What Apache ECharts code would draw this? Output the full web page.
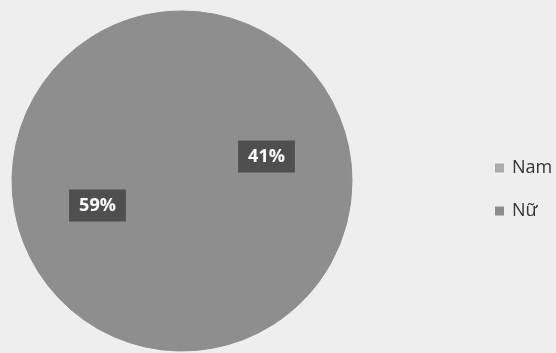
<!DOCTYPE html>
<html>
<head>
<meta charset="utf-8">
<script src="https://cdn.jsdelivr.net/npm/echarts@6/dist/echarts.min.js"></script>
<style>
  html, body { margin: 0; padding: 0; background: #eeeeee; }
  #chart { width: 556px; height: 353px; }
</style>
</head>
<body>
<div id="chart"></div>
<script>
// Gender split
var categories = ['Nam', 'Nữ'];
var shares = [41, 59];
var sliceColors = ['#8e8e8e', '#8e8e8e'];
var legendColors = ['#ababab', '#8c8c8c'];

var chart = echarts.init(document.getElementById('chart'), null, { renderer: 'canvas' });

var pieData = categories.map(function (name, i) {
  return {
    name: name,
    value: shares[i],
    // same-colour border hides the anti-aliased seam between slices
    itemStyle: { color: sliceColors[i], borderColor: sliceColors[i], borderWidth: 1 }
  };
});

chart.setOption({
  backgroundColor: '#eeeeee',
  animation: false,
  legend: {
    orient: 'vertical',
    left: 495,
    top: 159,
    padding: 0,
    itemWidth: 9,
    itemHeight: 9,
    itemGap: 25,
    icon: 'rect',
    textStyle: {
      fontFamily: 'Open Sans',
      fontSize: 18,
      color: '#333333',
      lineHeight: 18,
      padding: [0, 0, 0, 3]
    },
    data: categories.map(function (name, i) {
      return { name: name, itemStyle: { color: legendColors[i], borderWidth: 0 } };
    })
  },
  series: [{
    type: 'pie',
    center: [182, 181],
    radius: 170,
    startAngle: 90,
    clockwise: true,
    data: pieData,
    label: {
      position: 'inside',
      formatter: '{c}%',
      fontFamily: 'Open Sans',
      fontWeight: 'bold',
      fontSize: 18,
      color: '#ffffff',
      backgroundColor: '#4f4f4f',
      padding: [7, 10, 7, 10]
    },
    labelLine: { show: false },
    emphasis: { disabled: true }
  }]
});
</script>
</body>
</html>
